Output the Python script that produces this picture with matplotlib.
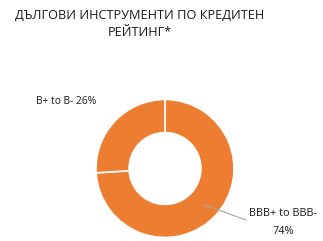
import matplotlib
matplotlib.use("Agg")
import matplotlib.pyplot as plt
import numpy as np

title = "ДЪЛГОВИ ИНСТРУМЕНТИ ПО КРЕДИТЕН\nРЕЙТИНГ*"
categories = ["BBB+ to BBB-", "B+ to B-"]
values = [74, 26]
colors = ["#ED7D31", "#ED7D31"]

W, H = 323, 241
fig = plt.figure(figsize=(W / 100, H / 100), dpi=100)
fig.patch.set_facecolor("white")

cx, cy, r = 165, 168.5, 69
ax = fig.add_axes([(cx - r) / W, (H - cy - r) / H, 2 * r / W, 2 * r / H])
ax.pie(values, colors=colors, startangle=90, counterclock=False, radius=1,
       wedgeprops=dict(width=0.48, edgecolor="white", linewidth=1.2))
ax.set_xlim(-1, 1)
ax.set_ylim(-1, 1)
ax.axis("off")

fam = ["Open Sans", "DejaVu Sans"]
fig.text(140 / W, 1 - 24 / H, title, ha="center", va="center", fontsize=9.2,
         family=fam, color="#1a1a1a", linespacing=1.4)

# leader for the big slice
mid = np.deg2rad(90 - values[0] / 100 * 360 / 2)
rm = 0.76
ax.annotate(f"{categories[0]}\n{values[0]}%",
            xy=(rm * np.cos(mid), rm * np.sin(mid)), xycoords="data",
            xytext=(283 / W, 1 - 222.5 / H), textcoords="figure fraction",
            ha="center", va="center", fontsize=7.8, family=fam, color="#1a1a1a",
            linespacing=1.75,
            arrowprops=dict(arrowstyle="-", color="#A6A6A6", lw=0.8,
                            relpos=(0, 0.55), shrinkA=0, shrinkB=0))

fig.text(66 / W, 1 - 101 / H, f"{categories[1]} {values[1]}%", ha="center", va="center",
         fontsize=7.4, family=fam, color="#1a1a1a")

fig.savefig("out.png", dpi=100, facecolor="white")
